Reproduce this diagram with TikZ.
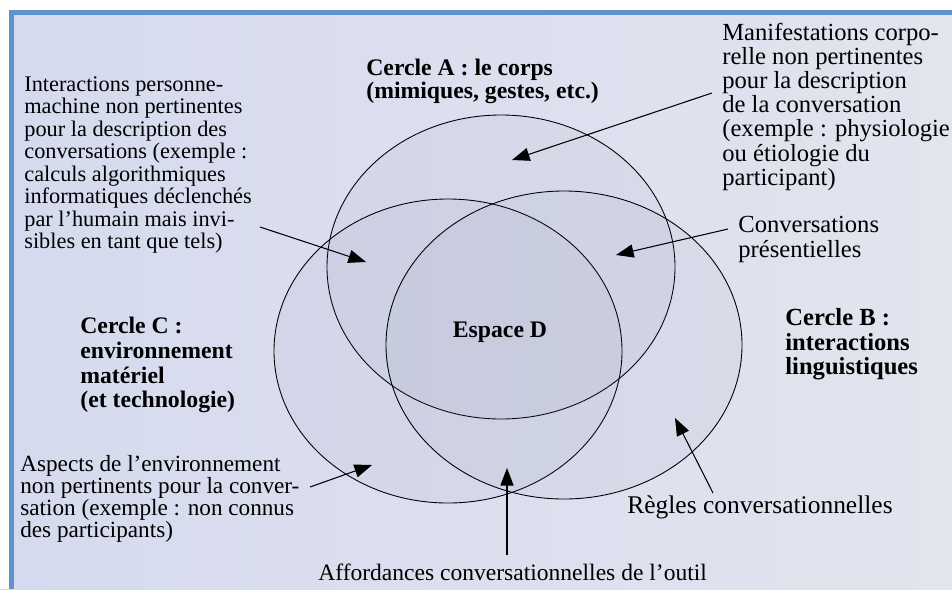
\documentclass[tikz,border=0pt]{standalone}
\usepackage{fontspec}
\setmainfont{Liberation Serif}
\usetikzlibrary{arrows.meta}
\definecolor{page}{RGB}{213,218,238}
\definecolor{pageright}{RGB}{226,228,238}
\definecolor{frameblue}{RGB}{96,146,204}
\definecolor{venn}{RGB}{110,115,150}
\begin{document}
\begin{tikzpicture}[x=0.02cm,y=-0.02cm]
\tikzstyle{set}=[draw=black,line width=0.5pt,fill=venn,fill opacity=0.06];
\tikzstyle{note}=[align=left,inner sep=0pt,anchor=north west,text=black];
\tikzstyle{pointer}=[draw,line width=0.6pt,-{Triangle[length=10pt,width=7.5pt]}];
\useasboundingbox (0,0) rectangle (952,589);
\path [left color=page,right color=pageright] (0,0) rectangle (952,589);
\path [fill=white] (0,0) rectangle (952,10);
\path [fill=white] (0,0) rectangle (9,589);
\path [fill=frameblue] (9,10) rectangle (952,15);
\path [fill=frameblue] (9,10) rectangle (14,589);
\coordinate (circle_a) at (501,267);
\coordinate (circle_b) at (564,345);
\coordinate (circle_c) at (448,351);
\coordinate (body_from) at (712,93);
\coordinate (body_to) at (512,160);
\coordinate (hci_from) at (260,227);
\coordinate (hci_to) at (366,262);
\coordinate (presence_from) at (728,229);
\coordinate (presence_to) at (616,255);
\coordinate (rules_from) at (713,493);
\coordinate (rules_to) at (675,418);
\coordinate (tool_from) at (507,555);
\coordinate (tool_to) at (507,468);
\coordinate (env_from) at (310,487);
\coordinate (env_to) at (372,465);
\path [style=set] (circle_a) ellipse [x radius=174,y radius=152];
\path [style=set] (circle_c) ellipse [x radius=174,y radius=152];
\path [style=set] (circle_b) ellipse [x radius=178,y radius=154];
\node (hci_label) at (24,76) [style=note,font=\fontsize{12.7}{12.8}\selectfont] {Interactions personne-\\machine non pertinentes\\pour la description des\\conversations (exemple :\\calculs algorithmiques\\informatiques déclenchés\\par l’humain mais invi-\\sibles en tant que tels)};
\node (circle_a_label) at (366,59) [style=note,font=\fontsize{13.5}{13}\bfseries] {Cercle A : le corps\\(mimiques, gestes, etc.)};
\node (body_label) at (722,23) [style=note,font=\fontsize{14}{13.7}\selectfont] {Manifestations corpo-\\relle non pertinentes\\pour la description\\de la conversation\\(exemple : physiologie\\ou étiologie du\\participant)};
\node (presence_label) at (738,216) [style=note,font=\fontsize{14}{14}\selectfont] {Conversations\\présentielles};
\node (circle_c_label) at (80,317) [style=note,font=\fontsize{13.5}{14}\bfseries] {Cercle C :\\environnement\\matériel\\(et technologie)};
\node (space_d_label) at (500,337) [anchor=base,inner sep=0pt,font=\fontsize{13.5}{14}\bfseries] {Espace D};
\node (circle_b_label) at (785,308) [style=note,font=\fontsize{14}{14}\bfseries] {Cercle B :\\interactions\\linguistiques};
\node (env_label) at (20,455) [style=note,font=\fontsize{13.2}{12.6}\selectfont] {Aspects de l’environnement\\non pertinents pour la conver-\\sation (exemple : non connus\\des participants)};
\node (rules_label) at (627,513) [anchor=base west,inner sep=0pt,font=\fontsize{14.5}{14}\selectfont] {Règles conversationnelles};
\node (tool_label) at (318,580) [anchor=base west,inner sep=0pt,font=\fontsize{13.4}{14}\selectfont] {Affordances conversationnelles de l’outil};
\path (body_from) -- (body_to) [style=pointer];
\path (hci_from) -- (hci_to) [style=pointer];
\path (presence_from) -- (presence_to) [style=pointer];
\path (rules_from) -- (rules_to) [style=pointer];
\path (tool_from) -- (tool_to) [style=pointer];
\path (env_from) -- (env_to) [style=pointer];
\end{tikzpicture}
\end{document}
